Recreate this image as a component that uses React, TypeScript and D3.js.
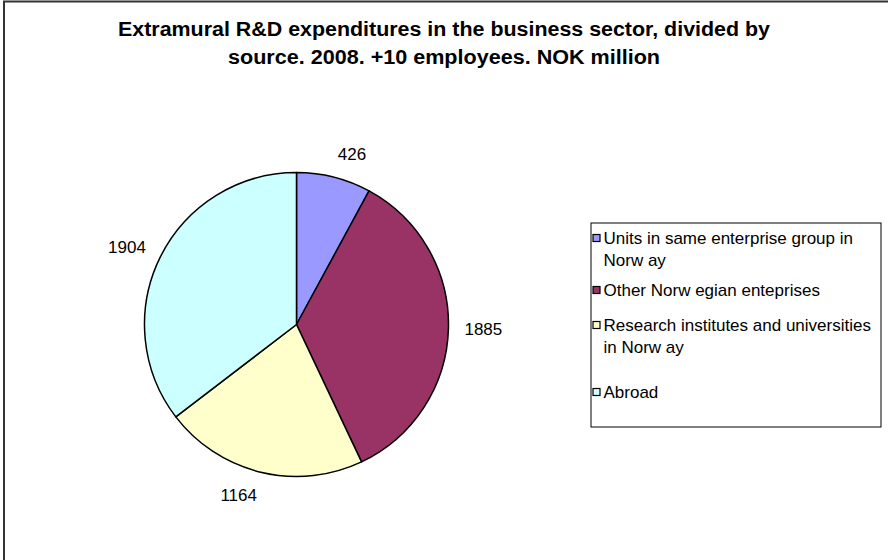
import React from "react";
import * as d3 from "d3";

const categories = [
  "Units in same enterprise group in Norway",
  "Other Norwegian enteprises",
  "Research institutes and universities in Norway",
  "Abroad",
];
const legendLines = [
  ["Units in same enterprise group in", "Norw ay"],
  ["Other Norw egian enteprises"],
  ["Research institutes and universities", "in Norw ay"],
  ["Abroad"],
];
const values = [426, 1885, 1164, 1904];
const colors = ["#9999FF", "#993366", "#FFFFCC", "#CCFFFF"];
const titleLines = [
  "Extramural R&D expenditures in the business sector, divided by",
  "source. 2008. +10 employees. NOK million",
];

export default function App() {
  const W = 888, H = 560;
  const cx = 296.5, cy = 324.5, r = 152;
  const pie = d3.pie<number>().sort(null).value((d) => d)(values);
  const arc = d3.arc<d3.PieArcDatum<number>>().innerRadius(0).outerRadius(r);
  const labelR = 168;
  const labelH = 15;
  const legendRowY = [238, 290, 325, 392];
  const font = "Arial, 'Liberation Sans', sans-serif";
  const titleWidths = [652, 432];
  return (
    <svg width={W} height={H} style={{ position: "absolute", left: 0, top: 0, background: "#fff" }} fontFamily={font}>
      <rect x={0} y={0} width={W} height={H} fill="#fff" />
      <path d={`M4,${H + 2} L4,1.5 L${W + 2},1.5`} fill="none" stroke="#333" strokeWidth={2} />
      {titleLines.map((t, i) => (
        <text
          key={i}
          x={444}
          y={36 + i * 28}
          textAnchor="middle"
          fontWeight="bold"
          fontSize={20}
          fill="#000"
          textLength={titleWidths[i]}
          lengthAdjust="spacingAndGlyphs"
        >
          {t}
        </text>
      ))}
      <g transform={`translate(${cx},${cy})`}>
        {pie.map((p, i) => (
          <path key={i} d={arc(p) || ""} fill={colors[i]} stroke="#000" strokeWidth={1.5} strokeLinejoin="round" />
        ))}
        {pie.map((p, i) => {
          const a = (p.startAngle + p.endAngle) / 2;
          const s = Math.sin(a), c = Math.cos(a);
          const x = labelR * s;
          const y = -labelR * c - (labelH / 2) * c;
          return (
            <text key={i} x={x} y={y} dy="0.35em" textAnchor={s >= 0 ? "start" : "end"} fontSize={17} fill="#000">
              {values[i]}
            </text>
          );
        })}
      </g>
      <rect x={591} y={223} width={290} height={204} fill="#fff" stroke="#000" strokeWidth={1} />
      {categories.map((c, i) => (
        <g key={c}>
          <rect x={593} y={legendRowY[i] - 3.5} width={7} height={7} fill={colors[i]} stroke="#000" strokeWidth={1.2} />
          {legendLines[i].map((ln, j) => (
            <text key={j} x={603.5} y={legendRowY[i] + j * 22} dy="0.35em" fontSize={17} fill="#000">
              {ln}
            </text>
          ))}
        </g>
      ))}
    </svg>
  );
}
